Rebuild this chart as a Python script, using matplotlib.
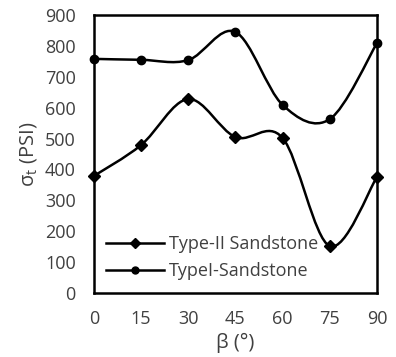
import numpy as np
import matplotlib
matplotlib.use("Agg")
import matplotlib.pyplot as plt
from matplotlib.path import Path
from matplotlib.patches import PathPatch

plt.rcParams['font.family'] = ['Open Sans', 'DejaVu Sans']
plt.rcParams['mathtext.fontset'] = 'custom'
plt.rcParams['mathtext.rm'] = 'Open Sans'

beta = [0, 15, 30, 45, 60, 75, 90]
type2 = [379, 479, 628, 505, 502, 152, 376]
type1 = [758, 755, 754, 845, 609, 563, 809]
xticks = [0, 15, 30, 45, 60, 75, 90]
yticks = [0, 100, 200, 300, 400, 500, 600, 700, 800, 900]

fig = plt.figure(figsize=(3.96, 3.57), dpi=100)
ax = fig.add_axes([0.237, 0.179, 0.715, 0.779])
ax.set_xlim(0, 90)
ax.set_ylim(0, 900)

def smooth_path(x, y):
    pts = np.column_stack([x, y]).astype(float)
    n = len(pts)
    verts = [pts[0]]
    codes = [Path.MOVETO]
    for i in range(n - 1):
        p0 = pts[i - 1] if i > 0 else pts[i]
        p1 = pts[i]
        p2 = pts[i + 1]
        p3 = pts[i + 2] if i + 2 < n else pts[i + 1]
        c1 = p1 + (p2 - p0) / 6.0
        c2 = p2 - (p3 - p1) / 6.0
        verts += [c1, c2, p2]
        codes += [Path.CURVE4] * 3
    return Path(verts, codes)

col = '#000000'
txt = '#404040'
for ys in (type2, type1):
    ax.add_patch(PathPatch(smooth_path(beta, ys), fill=False, lw=1.8, ec=col, zorder=3))

ax.plot(beta, type2, ls='none', marker='D', ms=6, color=col, zorder=4, clip_on=False)
ax.plot(beta, type1, ls='none', marker='o', ms=6, color=col, zorder=4, clip_on=False)

h2, = ax.plot([], [], '-', marker='D', ms=5, lw=1.8, color=col, label='Type-II Sandstone')
h1, = ax.plot([], [], '-', marker='o', ms=5, lw=1.8, color=col, label='TypeI-Sandstone')
leg = ax.legend(handles=[h2, h1], loc='lower left', bbox_to_anchor=(0.0, 0.0),
                frameon=False, fontsize=13, handlelength=3.2, handletextpad=0.25,
                labelspacing=0.5, borderaxespad=0.3, labelcolor=txt)

ax.set_xticks(xticks)
ax.set_yticks(yticks)
ax.tick_params(axis='y', length=0, labelsize=13, colors=txt, pad=13)
ax.tick_params(axis='x', length=0, labelsize=13, colors=txt, pad=12)
for s in ax.spines.values():
    s.set_linewidth(1.8)
    s.set_color('black')
ax.set_xlabel('β (°)', fontsize=14.5, color=txt, labelpad=4)
ax.set_ylabel(r'σ$_\mathregular{t}$ (PSI)', fontsize=14.5, color=txt, labelpad=4)

fig.savefig('out.png', dpi=100)
